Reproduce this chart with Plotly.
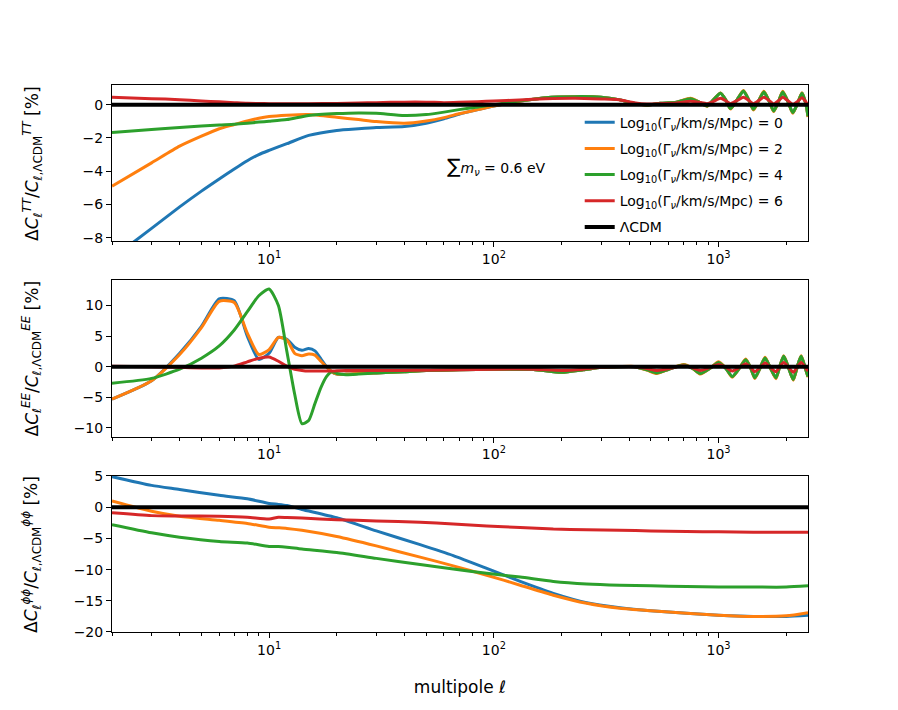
import plotly.graph_objects as go
from plotly.subplots import make_subplots

# ---- data ----
NAMES = [
    "Log<sub>10</sub>(Γ<sub><i>ν</i></sub>/km/s/Mpc) = 0",
    "Log<sub>10</sub>(Γ<sub><i>ν</i></sub>/km/s/Mpc) = 2",
    "Log<sub>10</sub>(Γ<sub><i>ν</i></sub>/km/s/Mpc) = 4",
    "Log<sub>10</sub>(Γ<sub><i>ν</i></sub>/km/s/Mpc) = 6",
]
COLORS = ["#1f77b4", "#ff7f0e", "#2ca02c", "#d62728"]
LCDM_NAME = "ΛCDM"
LCDM_REF = 0.0

TT_ELL = [2, 3, 4, 5, 6, 7, 8, 9, 10, 12, 15, 20, 25, 30, 40, 50, 60, 70, 85, 100,
          130, 170, 230, 300, 360, 420, 480, 550, 650, 750, 820, 890, 950, 1020,
          1080, 1130, 1210, 1290, 1360, 1430, 1510, 1590, 1680, 1760, 1850, 1930,
          2040, 2140, 2250, 2350, 2450, 2500]
TT_G0 = [-9.25, -7.44, -6.15, -5.2, -4.47, -3.87, -3.37, -3.0, -2.75, -2.35, -1.85, -1.55,
         -1.45, -1.38, -1.32, -1.12, -0.85, -0.58, -0.3, -0.08, 0.2, 0.42, 0.48, 0.45,
         0.3, 0.08, -0.02, 0.08, 0.15, 0.36, 0.15, -0.08, 0.3, 0.68, 0.25, -0.24,
         0.3, 0.82, 0.3, -0.28, 0.25, 0.76, 0.2, -0.38, 0.2, 0.76, 0.15, -0.48,
         0.1, 0.68, 0.0, -0.7]
TT_G2 = [-4.9, -3.5, -2.5, -1.9, -1.45, -1.2, -0.98, -0.82, -0.72, -0.64, -0.6, -0.76,
         -0.9, -1.02, -1.12, -0.98, -0.78, -0.55, -0.3, -0.08, 0.2, 0.42, 0.48, 0.45,
         0.3, 0.08, -0.04, 0.08, 0.15, 0.38, 0.15, -0.1, 0.3, 0.7, 0.25, -0.27,
         0.3, 0.85, 0.3, -0.32, 0.25, 0.8, 0.2, -0.42, 0.2, 0.8, 0.15, -0.52,
         0.1, 0.72, 0.0, -0.75]
TT_G4 = [-1.68, -1.5, -1.38, -1.28, -1.22, -1.18, -1.12, -1.05, -1.0, -0.9, -0.65, -0.54,
         -0.5, -0.52, -0.66, -0.6, -0.45, -0.3, -0.14, 0.0, 0.22, 0.42, 0.48, 0.45,
         0.3, 0.08, -0.02, 0.08, 0.15, 0.36, 0.15, -0.08, 0.3, 0.68, 0.25, -0.24,
         0.3, 0.82, 0.3, -0.28, 0.25, 0.76, 0.2, -0.38, 0.2, 0.76, 0.15, -0.48,
         0.1, 0.68, 0.0, -0.7]
TT_G6 = [0.44, 0.36, 0.3, 0.22, 0.17, 0.12, 0.08, 0.07, 0.06, 0.05, 0.06, 0.07,
         0.1, 0.12, 0.15, 0.15, 0.12, 0.14, 0.18, 0.22, 0.28, 0.35, 0.38, 0.34,
         0.3, 0.12, 0.04, 0.06, 0.1, 0.2, 0.14, 0.06, 0.2, 0.38, 0.22, 0.06,
         0.25, 0.45, 0.26, 0.06, 0.25, 0.45, 0.24, 0.04, 0.24, 0.45, 0.22, 0.02,
         0.2, 0.42, 0.15, -0.05]

EE_ELL = [2, 3, 4, 5, 6, 7, 8, 9, 10, 11, 12, 13, 14, 15, 16, 17, 18, 19, 20, 22,
          25, 30, 40, 50, 70, 100, 150, 200, 250, 300, 360, 420, 480, 530, 600, 700,
          770, 830, 920, 1000, 1080, 1150, 1240, 1320, 1390, 1450, 1530, 1610, 1700,
          1800, 1870, 1950, 2050, 2150, 2240, 2330, 2420, 2500]
EE_G0 = [-5.3, -2.3, 2.2, 6.6, 11.1, 10.8, 5.0, 1.2, 2.2, 4.8, 4.5, 3.2, 2.7, 3.0,
         2.6, 1.3, 0.0, -0.8, -1.2, -1.2,
         -1.1, -1.0, -0.8, -0.6, -0.5, -0.4, -0.45, -0.9, -0.5, -0.1, 0.0, 0.0, -0.5,
         -1.0, -0.4, 0.3, -0.3, -1.1, -0.2, 0.7, -0.3, -1.6, -0.2, 1.15, -0.2, -1.8,
         -0.2, 1.45, -0.2, -1.8, 0.0, 1.7, -0.2, -2.1, 0.0, 1.7, 0.0, -1.6]
EE_G2 = [-5.3, -2.3, 2.0, 6.4, 10.7, 10.5, 5.5, 2.0, 2.8, 4.8, 4.4, 2.2, 1.8, 2.1,
         1.9, 0.9, 0.0, -0.8, -1.2, -1.2,
         -1.1, -1.0, -0.8, -0.6, -0.5, -0.4, -0.45, -0.9, -0.5, -0.1, 0.0, 0.05, -0.55,
         -1.1, -0.4, 0.35, -0.3, -1.2, -0.2, 0.8, -0.3, -1.7, -0.2, 1.25, -0.2, -1.9,
         -0.2, 1.55, -0.2, -1.95, 0.0, 1.8, -0.2, -2.2, 0.0, 1.8, 0.0, -1.7]
EE_G4 = [-2.7, -1.9, -0.4, 1.4, 3.4, 6.0, 9.0, 11.6, 12.7, 10.0, 2.5, -4.5, -9.3, -8.8,
         -6.0, -3.4, -1.6, -0.8, -1.1, -1.3,
         -1.2, -1.0, -0.8, -0.6, -0.5, -0.4, -0.45, -0.9, -0.5, -0.1, 0.0, 0.0, -0.5,
         -1.0, -0.4, 0.3, -0.3, -1.1, -0.2, 0.7, -0.3, -1.6, -0.2, 1.15, -0.2, -1.8,
         -0.2, 1.45, -0.2, -1.8, 0.0, 1.7, -0.2, -2.1, 0.0, 1.7, 0.0, -1.6]
EE_G6 = [0.1, 0.0, -0.1, -0.2, -0.2, 0.1, 0.8, 1.4, 1.6, 0.9, 0.1, -0.4, -0.6, -0.7,
         -0.7, -0.7, -0.7, -0.7, -0.65, -0.6,
         -0.6, -0.6, -0.6, -0.55, -0.5, -0.4, -0.4, -0.6, -0.4, -0.1, 0.0, 0.0, -0.3,
         -0.6, -0.3, 0.15, -0.2, -0.6, -0.1, 0.35, -0.1, -0.7, -0.1, 0.5, -0.1, -0.8,
         -0.1, 0.6, -0.1, -0.8, 0.0, 0.7, -0.1, -0.9, 0.0, 0.7, 0.0, -0.7]

PP_ELL = [2, 3, 4, 6, 8, 10, 11, 12, 14, 20, 30, 47, 66, 93, 131, 184, 259, 364,
          500, 720, 1000, 1430, 2000, 2500]
PP_G0 = [4.9, 3.5, 2.85, 1.9, 1.35, 0.6, 0.45, 0.27, -0.37, -1.7, -3.8, -6.0, -7.75,
         -9.8, -11.9, -13.8, -15.3, -16.1, -16.6, -17.0, -17.3, -17.5, -17.5, -17.3]
PP_G2 = [1.0, -0.65, -1.45, -2.1, -2.6, -3.2, -3.3, -3.4, -3.7, -4.7, -6.2, -8.0, -9.4,
         -10.9, -12.5, -14.1, -15.4, -16.2, -16.6, -17.0, -17.3, -17.5, -17.4, -16.9]
PP_G4 = [-2.8, -4.1, -4.8, -5.5, -5.75, -6.3, -6.3, -6.4, -6.7, -7.25, -8.2, -9.2, -9.9,
         -10.6, -11.2, -11.9, -12.3, -12.5, -12.6, -12.7, -12.8, -12.8, -12.8, -12.6]
PP_G6 = [-0.9, -1.35, -1.4, -1.45, -1.6, -1.9, -1.6, -1.65, -1.75, -2.0, -2.2, -2.4, -2.7,
         -3.0, -3.25, -3.5, -3.6, -3.7, -3.8, -3.9, -3.95, -4.0, -4.0, -4.0]

PANELS = [
    (TT_ELL, [TT_G0, TT_G2, TT_G4, TT_G6], "TT", [-8.2, 1.18], 2),
    (EE_ELL, [EE_G0, EE_G2, EE_G4, EE_G6], "EE", [-11.4, 14.1], 5),
    (PP_ELL, [PP_G0, PP_G2, PP_G4, PP_G6], "ϕϕ", [-20, 5], 5),
]
DOMAINS = [[0.7148, 1.0], [0.3574, 0.6426], [0.0, 0.2852]]

FONT = "DejaVu Sans"
MINOR = [2, 3, 4, 5, 6, 7, 8, 9, 20, 30, 40, 50, 60, 70, 80, 90,
         200, 300, 400, 500, 600, 700, 800, 900, 2000]

fig = make_subplots(rows=3, cols=1)

for row, (ell, series, spec, yrange, dtick) in enumerate(PANELS, start=1):
    for k, (vals, name, color) in enumerate(zip(series, NAMES, COLORS)):
        fig.add_trace(go.Scatter(
            x=ell, y=vals, mode="lines", name=name,
            line=dict(color=color, width=3, shape="spline", smoothing=0.6),
            legendgroup=f"g{k}", showlegend=(row == 1),
        ), row=row, col=1)
    fig.add_trace(go.Scatter(
        x=ell, y=[LCDM_REF] * len(ell), mode="lines", name=LCDM_NAME,
        line=dict(color="black", width=4),
        legendgroup="lcdm", showlegend=(row == 1),
    ), row=row, col=1)

    fig.update_yaxes(
        row=row, col=1, domain=DOMAINS[row - 1], range=yrange, dtick=dtick,
        showgrid=False, zeroline=False, showline=True, mirror=True,
        linecolor="black", linewidth=1, ticks="outside", ticklen=5,
        tickcolor="black", tickfont=dict(size=14, color="black"),
    )
    fig.update_xaxes(
        row=row, col=1, type="log", range=[0.30103, 3.39794],
        tickvals=[10, 100, 1000],
        ticktext=["10<sup>1</sup>", "10<sup>2</sup>", "10<sup>3</sup>"],
        showgrid=False, zeroline=False, showline=True, mirror=True,
        linecolor="black", linewidth=1, ticks="outside", ticklen=5,
        tickcolor="black", tickfont=dict(size=14, color="black"),
        minor=dict(tickvals=MINOR, ticks="outside", ticklen=3, tickcolor="black",
                   showgrid=False),
    )

    # y-axis label as a rotated annotation so all three line up
    ytitle = (f"Δ<i>C</i><sub><i>ℓ</i></sub><sup><i>{spec}</i></sup>/"
              f"<i>C</i><sub><i>ℓ</i>,ΛCDM</sub><sup><i>{spec}</i></sup> [%]")
    dom = DOMAINS[row - 1]
    fig.add_annotation(
        xref="paper", yref="paper", x=-0.115, y=(dom[0] + dom[1]) / 2,
        text=ytitle, textangle=-90, showarrow=False,
        xanchor="center", yanchor="middle",
        font=dict(size=17, color="black", family=FONT),
    )

fig.update_xaxes(row=3, col=1,
                 title=dict(text="multipole <i>ℓ</i>", font=dict(size=17, color="black"),
                            standoff=24))

fig.add_annotation(
    xref="paper", yref="paper", x=0.552, y=0.8775,
    text="<span style='font-size:20px'>∑</span><i>m</i><sub><i>ν</i></sub> = 0.6 eV",
    showarrow=False, font=dict(size=14, color="black", family=FONT),
)

fig.update_layout(
    width=890, height=702,
    margin=dict(l=104, r=90, t=77, b=78),
    paper_bgcolor="white", plot_bgcolor="white",
    font=dict(family=FONT, color="black"),
    showlegend=True,
    legend=dict(x=0.672, y=0.9605, xanchor="left", yanchor="top",
                font=dict(size=14), bgcolor="rgba(0,0,0,0)",
                tracegroupgap=5),
)

fig.write_html("out.html")
